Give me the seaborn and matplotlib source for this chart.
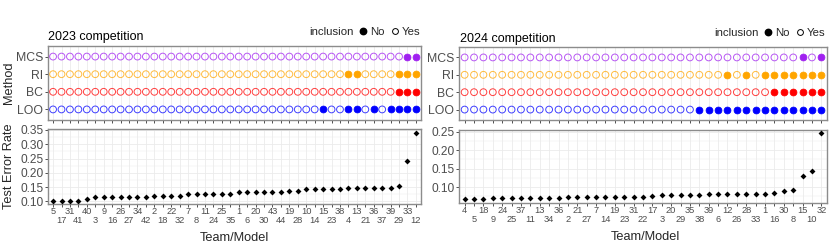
import numpy as np
import pandas as pd
import matplotlib
matplotlib.use("Agg")
import matplotlib.pyplot as plt
import seaborn as sns
from matplotlib.ticker import FixedLocator, NullFormatter, FixedFormatter
from matplotlib.lines import Line2D

# ---------------- data ----------------
methods = ["LOO", "BC", "RI", "MCS"]
method_colors = ["#0000FF", "#FF0000", "#FFA500", "#A020F0"]

teams_2023 = [5, 17, 31, 41, 40, 3, 9, 16, 26, 27, 34, 42, 2, 18, 22, 32, 7, 8, 11, 24,
              25, 35, 1, 6, 20, 30, 43, 44, 19, 28, 10, 14, 15, 23, 38, 4, 13, 21, 36, 37,
              39, 29, 33, 12]
error_2023 = [0.102, 0.102, 0.102, 0.102, 0.108, 0.115, 0.115, 0.115, 0.115, 0.115, 0.115, 0.115,
              0.120, 0.120, 0.120, 0.120, 0.126, 0.126, 0.126, 0.126, 0.126, 0.126,
              0.131, 0.131, 0.131, 0.131, 0.131, 0.131, 0.136, 0.136,
              0.142, 0.142, 0.142, 0.142, 0.142, 0.147, 0.147, 0.147, 0.147, 0.147, 0.147,
              0.153, 0.241, 0.340]
excluded_2023 = {
    "LOO": [15, 4, 13, 36, 39, 29, 33, 12],
    "BC": [29, 33, 12],
    "RI": [4, 13, 29, 33, 12],
    "MCS": [33, 12],
}

teams_2024 = [4, 5, 18, 9, 24, 25, 37, 11, 13, 34, 36, 2, 21, 27, 7, 14, 19, 23, 31, 22,
              17, 3, 20, 29, 35, 38, 39, 6, 12, 26, 28, 33, 1, 16, 30, 8, 15, 10, 32]
error_2024 = [0.067, 0.067, 0.067, 0.069, 0.069, 0.069, 0.070, 0.071, 0.071, 0.071, 0.071,
              0.072, 0.072, 0.072, 0.073, 0.073, 0.073, 0.073, 0.073, 0.074,
              0.075, 0.077, 0.078, 0.078, 0.078, 0.079, 0.080, 0.081, 0.081, 0.081, 0.081, 0.081,
              0.082, 0.085, 0.089, 0.093, 0.131, 0.143, 0.246]
excluded_2024 = {
    "LOO": [38, 39, 6, 12, 26, 28, 33, 1, 16, 30, 8, 15, 10, 32],
    "BC": [16, 30, 8, 15, 10, 32],
    "RI": [12, 28, 1, 16, 30, 8, 15, 10, 32],
    "MCS": [15, 32],
}

# ---------------- style ----------------
sns.set_theme(style="white")
plt.rcParams["font.family"] = ["Liberation Sans", "DejaVu Sans"]

W, H = 830, 249
fig = plt.figure(figsize=(W / 100, H / 100), dpi=100)


def add_ax(x0, y0, x1, y1):
    return fig.add_axes([x0 / W, 1 - y1 / H, (x1 - x0) / W, (y1 - y0) / H])


GRID = "#EBEBEB"
BORDER = "#8C8C8C"
TICKC = "#4D4D4D"


def style_border(ax):
    for s in ax.spines.values():
        s.set_visible(True)
        s.set_color(BORDER)
        s.set_linewidth(1.0)


def draw_panel(ax_top, ax_bot, teams, errors, excluded, ylim, yticks):
    n = len(teams)
    pos = np.arange(n)
    rows = []
    for mi, m in enumerate(methods):
        for p, t in zip(pos, teams):
            rows.append({"pos": p, "team": t, "method": m, "mnum": mi + 1,
                         "inclusion": "No" if t in excluded[m] else "Yes"})
    df = pd.DataFrame(rows)

    # ---- top: inclusion dots
    for mi, m in enumerate(methods):
        c = method_colors[mi]
        sub = df[(df.method == m) & (df.inclusion == "No")]
        if len(sub):
            sns.scatterplot(data=sub, x="pos", y="mnum", ax=ax_top, color=c,
                            edgecolor=c, s=24, linewidth=0.6, zorder=3, legend=False)
        sub = df[(df.method == m) & (df.inclusion == "Yes")]
        sns.scatterplot(data=sub, x="pos", y="mnum", ax=ax_top, color=c,
                        facecolor="none", edgecolor=c, s=24, linewidth=0.7,
                        alpha=0.75, zorder=3, legend=False)
    ax_top.set_xlim(-0.6, n - 0.4)
    ax_top.set_ylim(0.4, 4.6)
    ax_top.xaxis.set_major_locator(FixedLocator(pos))
    ax_top.xaxis.set_major_formatter(NullFormatter())
    ax_top.set_yticks(range(1, 5))
    ax_top.set_yticklabels(methods)
    ax_top.grid(True, axis="x", color=GRID, lw=0.6, zorder=0)
    ax_top.grid(False, axis="y")
    ax_top.set_axisbelow(True)
    ax_top.tick_params(axis="both", which="major", bottom=True, left=True,
                       length=2.2, width=0.6, color="#333333", pad=1.2,
                       labelcolor=TICKC)
    ax_top.tick_params(axis="y", labelsize=8.8)
    ax_top.set_xlabel("")
    ax_top.set_ylabel("")
    style_border(ax_top)

    # ---- bottom: test error rate
    sns.scatterplot(x=pos, y=errors, ax=ax_bot, color="black", marker="D",
                    s=9, linewidth=0, zorder=3, legend=False)
    ax_bot.set_xlim(-0.6, n - 0.4)
    ax_bot.set_ylim(*ylim)
    even = pos[0::2]
    odd = pos[1::2]
    ax_bot.xaxis.set_major_locator(FixedLocator(even))
    ax_bot.xaxis.set_major_formatter(FixedFormatter([str(teams[i]) for i in even]))
    ax_bot.xaxis.set_minor_locator(FixedLocator(odd))
    ax_bot.xaxis.set_minor_formatter(FixedFormatter([str(teams[i]) for i in odd]))
    ax_bot.set_yticks(yticks)
    ax_bot.set_yticklabels([f"{v:.2f}" for v in yticks])
    mids = [(a + b) / 2 for a, b in zip(yticks[:-1], yticks[1:])]
    mids = [yticks[0] - (yticks[1] - yticks[0]) / 2] + mids
    ax_bot.yaxis.set_minor_locator(FixedLocator(mids))
    ax_bot.grid(True, which="both", axis="x", color=GRID, lw=0.6, zorder=0)
    ax_bot.grid(True, which="major", axis="y", color=GRID, lw=0.6, zorder=0)
    ax_bot.grid(True, which="minor", axis="y", color=GRID, lw=0.35, zorder=0)
    ax_bot.set_axisbelow(True)
    ax_bot.tick_params(axis="x", which="major", bottom=True, length=2.2, width=0.6,
                       color="#333333", pad=0.3, labelsize=6.7, labelcolor=TICKC)
    ax_bot.tick_params(axis="x", which="minor", bottom=True, length=2.2, width=0.6,
                       color="#333333", pad=6.6, labelsize=6.7, labelcolor=TICKC)
    ax_bot.tick_params(axis="y", which="major", left=True, length=2.2, width=0.6,
                       color="#333333", pad=1.2, labelsize=8.6, labelcolor=TICKC)
    ax_bot.tick_params(axis="y", which="minor", left=False, length=0)
    ax_bot.set_xlabel("")
    ax_bot.set_ylabel("")
    style_border(ax_bot)


axL_top = add_ax(48, 46, 421, 120)
axL_bot = add_ax(48, 129, 421, 204)
axR_top = add_ax(459, 47, 827, 120)
axR_bot = add_ax(459, 130, 827, 202.5)

draw_panel(axL_top, axL_bot, teams_2023, error_2023, excluded_2023,
           (0.0905, 0.3535), [0.10, 0.15, 0.20, 0.25, 0.30, 0.35])
draw_panel(axR_top, axR_bot, teams_2024, error_2024, excluded_2024,
           (0.058, 0.2545), [0.10, 0.15, 0.20, 0.25])

# titles
fig.text(48 / W, 1 - 37 / H, "2023 competition", fontsize=9, va="center", ha="left",
         color="black")
fig.text(460 / W, 1 - 39 / H, "2024 competition", fontsize=9, va="center", ha="left",
         color="black")

# axis titles
fig.text(9 / W, 1 - 83 / H, "Method", fontsize=9.2, rotation=90, va="center", ha="center")
fig.text(9 / W, 1 - 166 / H, "Test Error Rate", fontsize=9.2, rotation=90, va="center",
         ha="center")
fig.text(234.5 / W, 1 - 238 / H, "Team/Model", fontsize=9.2, va="center", ha="center")
fig.text(645 / W, 1 - 237 / H, "Team/Model", fontsize=9.2, va="center", ha="center")

# legends
handles = [Line2D([], [], marker="o", color="black", linestyle="none", markersize=4.6),
           Line2D([], [], marker="o", color="black", markerfacecolor="none",
                  markeredgewidth=0.7, linestyle="none", markersize=4.2)]
for (x_incl, x_right, yc) in [(354, 420, 32), (759, 825, 33)]:
    fig.text(x_incl / W, 1 - yc / H, "inclusion", fontsize=8.2, va="center", ha="right")
    fig.legend(handles, ["No", "Yes"], ncol=2, frameon=False, loc="center right",
               bbox_to_anchor=(x_right / W, 1 - yc / H), fontsize=8.2,
               handletextpad=0.15, columnspacing=0.45, handlelength=0.9,
               borderpad=0, borderaxespad=0)

fig.savefig("out.png", dpi=100)
